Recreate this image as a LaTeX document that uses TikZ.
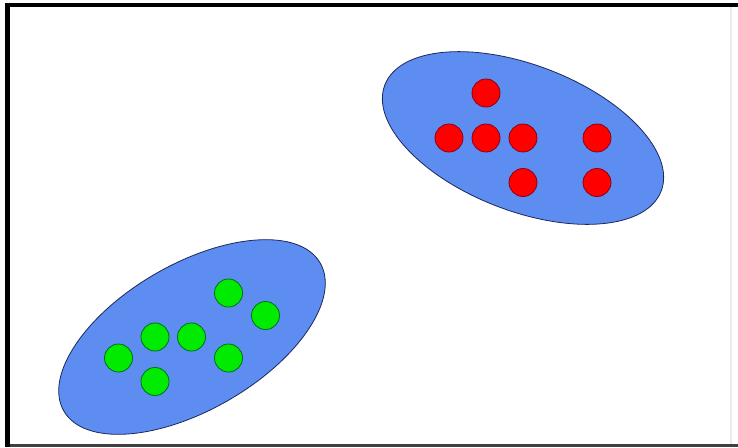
\documentclass[tikz,border=0pt]{standalone}
\usetikzlibrary{shapes.geometric}
\definecolor{blobblue}{RGB}{93,141,240}
\definecolor{blobedge}{RGB}{30,40,90}
\definecolor{dotred}{RGB}{255,0,0}
\definecolor{dotrededge}{RGB}{140,0,20}
\definecolor{dotgreen}{RGB}{0,235,0}
\definecolor{dotgreenedge}{RGB}{0,110,20}
\tikzset{
  blob/.style={ellipse, draw=blobedge, fill=blobblue, line width=0.8pt,
    minimum width=296pt, minimum height=146pt, inner sep=0pt},
  reddot/.style={circle, draw=dotrededge, fill=dotred, line width=0.8pt,
    minimum size=28pt, inner sep=0pt},
  greendot/.style={circle, draw=dotgreenedge, fill=dotgreen, line width=0.8pt,
    minimum size=28pt, inner sep=0pt},
  frametop/.style={black, line width=4pt},
  frameleft/.style={black, line width=5pt},
  framebottom/.style={black!75, line width=3pt},
  frameright/.style={black!8, line width=1.5pt}
}
\begin{document}
\begin{tikzpicture}[x=1pt,y=-1pt]
\useasboundingbox (0,0) rectangle (738,447);
\fill[white] (0,0) rectangle (738,447);
% frame
\coordinate (tl) at (5,5);
\coordinate (tr) at (738,5);
\coordinate (lt) at (7.5,3);
\coordinate (lb) at (7.5,447);
\coordinate (bl) at (5,445.5);
\coordinate (br) at (738,445.5);
\coordinate (rt) at (731,7);
\coordinate (rb) at (731,444);
\draw[frameright] (rt) -- (rb);
\draw[framebottom] (bl) -- (br);
\draw[frametop] (tl) -- (tr);
\draw[frameleft] (lt) -- (lb);
% ellipses
\node[blob, rotate=-21] (redblob) at (523,138) {};
\node[blob, rotate=30] (greenblob) at (192,337) {};
% red dots
\node[reddot] (r1) at (486,93) {};
\node[reddot] (r2) at (449,138) {};
\node[reddot] (r3) at (486,138) {};
\node[reddot] (r4) at (523,138) {};
\node[reddot] (r5) at (597,138) {};
\node[reddot] (r6) at (523,182.5) {};
\node[reddot] (r7) at (597,182.5) {};
% green dots
\node[greendot] (g1) at (228.5,293) {};
\node[greendot] (g2) at (265.5,315.5) {};
\node[greendot] (g3) at (155,337) {};
\node[greendot] (g4) at (191.5,337) {};
\node[greendot] (g5) at (118.5,358) {};
\node[greendot] (g6) at (228.5,358) {};
\node[greendot] (g7) at (155,381.5) {};
\end{tikzpicture}
\end{document}
